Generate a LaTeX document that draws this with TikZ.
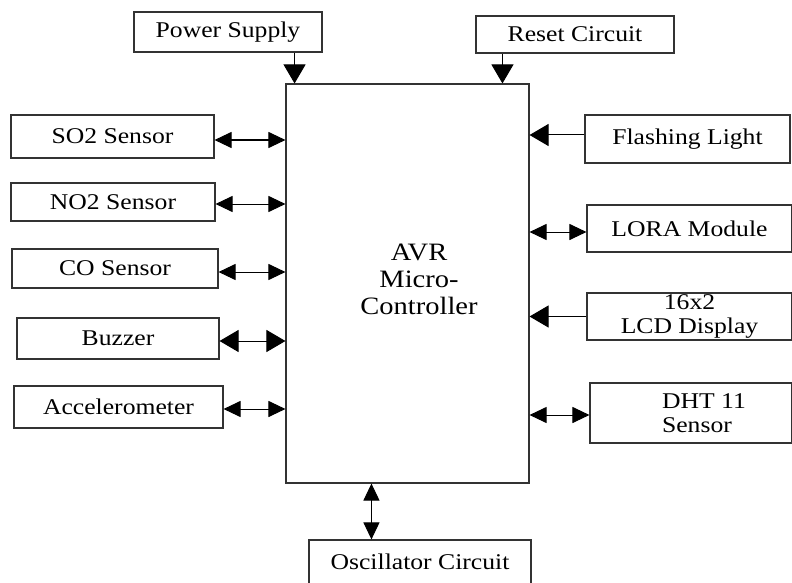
\documentclass[tikz,border=0pt]{standalone}
\usepackage{fontspec}
\setmainfont{Liberation Serif}[FakeStretch=1.14]
\usetikzlibrary{arrows.meta}
\tikzset{
  box/.style={draw=black!80, line width=1.1pt, rectangle, inner sep=0pt, font=\fontsize{22.5}{26}\selectfont, align=center},
  conn/.style={line width=1pt, black},
  tipS/.tip={Triangle[length=17pt,width=16pt]},
  tipL/.tip={Triangle[length=19pt,width=22pt]},
}
\begin{document}
\begin{tikzpicture}[x=1pt,y=-1pt]
\useasboundingbox (0,0) rectangle (792,583);
\fill[white] (0,0) rectangle (792,583);
% boxes
\node[box, minimum width=188pt, minimum height=40pt] (power) at (228,32) {Power Supply};
\node[box, minimum width=198pt, minimum height=37pt] (reset) at (575,34.5) {Reset Circuit};
\node[box, minimum width=243pt, minimum height=399pt] (avr) at (407.5,283.5) {};
\node[align=center, font=\fontsize{25}{27}\selectfont] (avrtext) at (419,279) {AVR\\Micro-\\Controller};
\node[box, minimum width=203pt, minimum height=43pt] (so2) at (112.5,136.5) {SO2 Sensor};
\node[box, minimum width=204pt, minimum height=38pt] (no2) at (113,202) {NO2 Sensor};
\node[box, minimum width=206pt, minimum height=39pt] (co) at (115,268.5) {CO Sensor};
\node[box, minimum width=202pt, minimum height=41pt] (buzzer) at (118,338.5) {Buzzer};
\node[box, minimum width=209pt, minimum height=42pt] (accel) at (118.5,407) {Accelerometer};
\node[box, minimum width=205pt, minimum height=48pt] (flash) at (687.5,139) {Flashing Light};
\node[box, minimum width=205pt, minimum height=47pt] (lora) at (689.5,228.5) {LORA Module};
\node[box, minimum width=205pt, minimum height=47pt, font=\fontsize{22.5}{24}\selectfont] (lcd) at (689.5,316.5) {16x2\\LCD Display};
\node[box, minimum width=202pt, minimum height=60pt] (dht) at (691,413) {};
\node[align=left, font=\fontsize{22.5}{24}\selectfont] (dhttext) at (704,413) {DHT 11\\Sensor};
\node[box, minimum width=222pt, minimum height=44pt] (osc) at (420,562) {Oscillator Circuit};
% connectors
\draw[conn, -{tipL}] ([xshift=-28pt]power.south east) -- ([xshift=-28pt]power.south east |- avr.north);
\draw[conn, -{tipL}] ([xshift=27pt]reset.south west) -- ([xshift=27pt]reset.south west |- avr.north);
\draw[conn, {tipS}-{tipS}] ([yshift=-3.5pt]so2.east) -- ([yshift=-3.5pt]so2.east -| avr.west);
\draw[conn, {tipS}-{tipS}] ([yshift=-2pt]no2.east) -- ([yshift=-2pt]no2.east -| avr.west);
\draw[conn, {tipS}-{tipS}] ([yshift=-3.5pt]co.east) -- ([yshift=-3.5pt]co.east -| avr.west);
\draw[conn, {tipL}-{tipL}] ([yshift=-2.5pt]buzzer.east) -- ([yshift=-2.5pt]buzzer.east -| avr.west);
\draw[conn, {tipS}-{tipS}] ([yshift=-2pt]accel.east) -- ([yshift=-2pt]accel.east -| avr.west);
\draw[conn, -{tipL}] ([yshift=4pt]flash.west) -- ([yshift=4pt]flash.west -| avr.east);
\draw[conn, {tipS}-{tipS}] ([yshift=-3.5pt]lora.west) -- ([yshift=-3.5pt]lora.west -| avr.east);
\draw[conn, -{tipL}] (lcd.west) -- (lcd.west -| avr.east);
\draw[conn, {tipS}-{tipS}] ([yshift=-2pt]dht.west) -- ([yshift=-2pt]dht.west -| avr.east);
\draw[conn, {tipS}-{tipS}] ([xshift=63pt]osc.north west) -- ([xshift=63pt]osc.north west |- avr.south);
\end{tikzpicture}
\end{document}
